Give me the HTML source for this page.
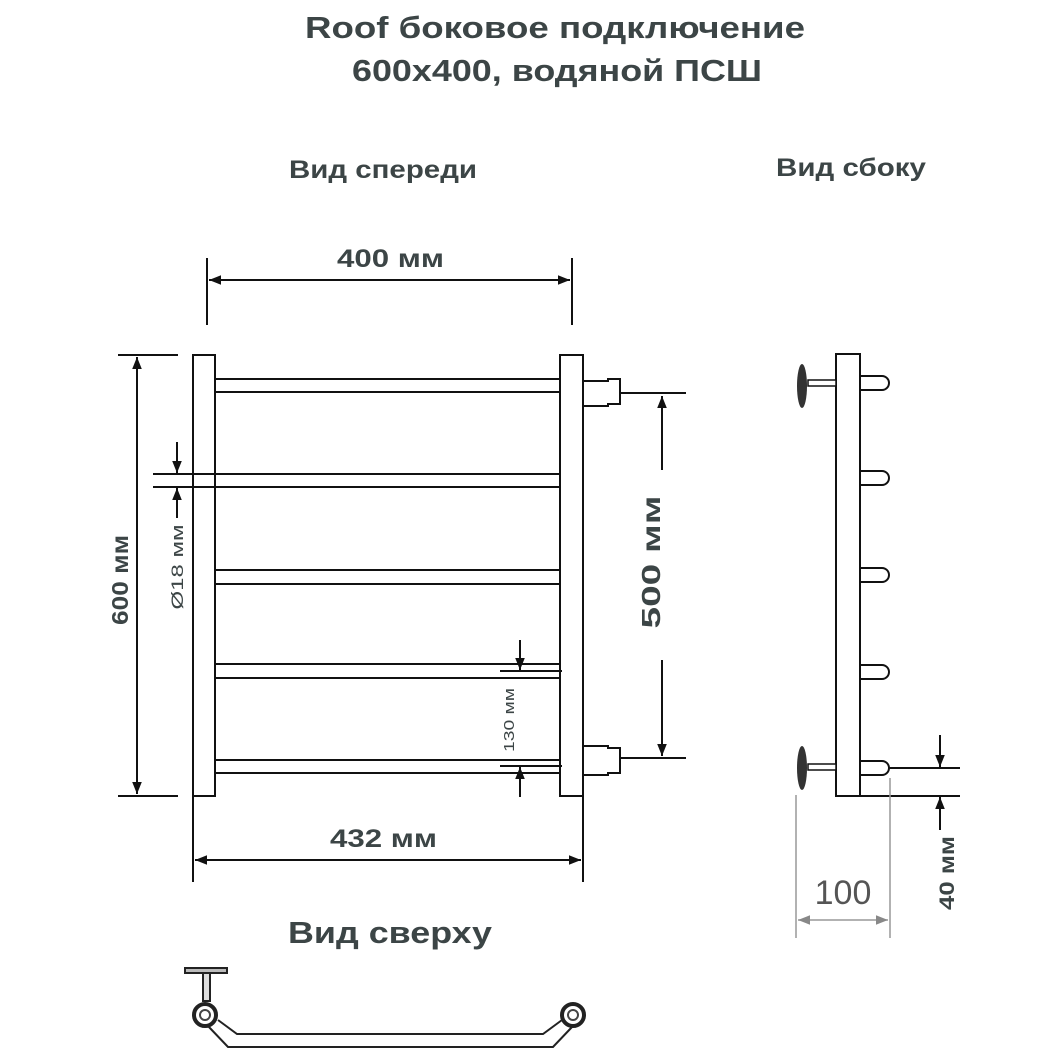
<!DOCTYPE html>
<html><head><meta charset="utf-8"><style>
html,body{margin:0;padding:0;background:#fff}
svg{display:block}
text{font-family:"Liberation Sans",sans-serif;fill:#3c4546;font-weight:bold}
</style></head><body>
<svg width="1057" height="1057" viewBox="0 0 1057 1057" xmlns="http://www.w3.org/2000/svg">
<defs>
<marker id="a" viewBox="0 0 10 10" refX="10" refY="5" markerWidth="14" markerHeight="12" orient="auto-start-reverse" markerUnits="userSpaceOnUse"><path d="M0,1 L10,5 L0,9z" fill="#111"/></marker>
<marker id="g" viewBox="0 0 10 10" refX="10" refY="5" markerWidth="14" markerHeight="12" orient="auto-start-reverse" markerUnits="userSpaceOnUse"><path d="M0,1 L10,5 L0,9z" fill="#888"/></marker>
</defs>
<text x="305" y="38" font-size="31" textLength="500" lengthAdjust="spacingAndGlyphs">Roof боковое подключение</text>
<text x="352" y="81" font-size="31" textLength="410" lengthAdjust="spacingAndGlyphs">600x400, водяной ПСШ</text>
<text x="289" y="178" font-size="25" textLength="188" lengthAdjust="spacingAndGlyphs">Вид спереди</text>
<text x="776" y="176" font-size="25" textLength="150" lengthAdjust="spacingAndGlyphs">Вид сбоку</text>
<text x="337" y="267" font-size="25" textLength="107" lengthAdjust="spacingAndGlyphs">400 мм</text>
<text x="330" y="847" font-size="25" textLength="107" lengthAdjust="spacingAndGlyphs">432 мм</text>
<text x="288" y="943" font-size="31" textLength="204" lengthAdjust="spacingAndGlyphs">Вид сверху</text>

<g stroke="#111" stroke-width="2" fill="none">
<line x1="207" y1="258" x2="207" y2="325"/><line x1="572" y1="258" x2="572" y2="325"/>
<line x1="209" y1="280" x2="570" y2="280" marker-start="url(#a)" marker-end="url(#a)"/>
<rect x="193" y="355" width="22" height="441" fill="#fff"/>
<rect x="560" y="355" width="23" height="441" fill="#fff"/>
<line x1="193" y1="796" x2="193" y2="882"/><line x1="583" y1="796" x2="583" y2="882"/>
<line x1="195" y1="860" x2="581" y2="860" marker-start="url(#a)" marker-end="url(#a)"/>
<line x1="215" y1="379" x2="560" y2="379"/><line x1="215" y1="392" x2="560" y2="392"/>
<line x1="215" y1="474" x2="560" y2="474"/><line x1="215" y1="487" x2="560" y2="487"/>
<line x1="215" y1="570" x2="560" y2="570"/><line x1="215" y1="584" x2="560" y2="584"/>
<line x1="215" y1="664" x2="560" y2="664"/><line x1="215" y1="678" x2="560" y2="678"/>
<line x1="215" y1="760" x2="560" y2="760"/><line x1="215" y1="773" x2="560" y2="773"/>
<line x1="118" y1="355" x2="178" y2="355"/><line x1="118" y1="796" x2="178" y2="796"/>
<line x1="137" y1="357" x2="137" y2="794" marker-start="url(#a)" marker-end="url(#a)"/>
<line x1="153" y1="474" x2="215" y2="474"/><line x1="153" y1="487" x2="215" y2="487"/>
<line x1="177" y1="442" x2="177" y2="473" marker-end="url(#a)"/>
<line x1="177" y1="518" x2="177" y2="488" marker-end="url(#a)"/>
<path d="M583,381 H608 V379 H620 V404 H608 V406 H583"/>
<path d="M583,746 H608 V748 H620 V773 H608 V775 H583"/>
<line x1="620" y1="393" x2="686" y2="393"/><line x1="620" y1="758" x2="686" y2="758"/>
<line x1="662" y1="470" x2="662" y2="396" marker-end="url(#a)"/>
<line x1="662" y1="660" x2="662" y2="756" marker-end="url(#a)"/>
<line x1="500" y1="671" x2="562" y2="671"/><line x1="500" y1="766" x2="562" y2="766"/>
<line x1="520" y1="640" x2="520" y2="670" marker-end="url(#a)"/>
<line x1="520" y1="797" x2="520" y2="767" marker-end="url(#a)"/>
<rect x="836" y="354" width="24" height="442" fill="#fff"/>
<path d="M860,376 H882 A7,7 0 0 1 882,390 H860"/>
<path d="M860,471 H882 A7,7 0 0 1 882,485 H860"/>
<path d="M860,568 H882 A7,7 0 0 1 882,582 H860"/>
<path d="M860,665 H882 A7,7 0 0 1 882,679 H860"/>
<path d="M860,761 H882 A7,7 0 0 1 882,775 H860"/>
<rect x="808" y="380" width="28" height="6" fill="#fff" stroke-width="1.5"/>
<rect x="808" y="764" width="28" height="6" fill="#fff" stroke-width="1.5"/>
<line x1="888" y1="768" x2="960" y2="768"/><line x1="860" y1="796" x2="960" y2="796"/>
<line x1="940" y1="735" x2="940" y2="767" marker-end="url(#a)"/>
<line x1="940" y1="830" x2="940" y2="797" marker-end="url(#a)"/>
</g>
<ellipse cx="802" cy="386" rx="5" ry="22" fill="#333"/>
<ellipse cx="802" cy="768" rx="5" ry="22" fill="#333"/>
<g stroke="#999" stroke-width="1.5" fill="none">
<line x1="796" y1="795" x2="796" y2="938"/><line x1="890" y1="778" x2="890" y2="938"/>
<line x1="798" y1="920" x2="888" y2="920" marker-start="url(#g)" marker-end="url(#g)"/>
</g>
<text x="843" y="904" font-size="34" text-anchor="middle" style="font-weight:normal;fill:#555">100</text>

<text transform="translate(128,580) rotate(-90)" font-size="23" text-anchor="middle" textLength="90" lengthAdjust="spacingAndGlyphs">600 мм</text>
<text transform="translate(183,567) rotate(-90)" font-size="17" text-anchor="middle" textLength="85" lengthAdjust="spacingAndGlyphs" style="font-weight:normal">Ø18 мм</text>
<text transform="translate(660,562) rotate(-90)" font-size="26" text-anchor="middle" textLength="133" lengthAdjust="spacingAndGlyphs">500 мм</text>
<text transform="translate(514,720) rotate(-90)" font-size="15" text-anchor="middle" textLength="64" lengthAdjust="spacingAndGlyphs" style="font-weight:normal">130 мм</text>
<text transform="translate(954,873) rotate(-90)" font-size="21" text-anchor="middle" textLength="74" lengthAdjust="spacingAndGlyphs">40 мм</text>

<g stroke="#222" stroke-width="2" fill="none">
<rect x="185" y="968" width="42" height="5" fill="#bbb"/>
<rect x="203" y="973" width="7" height="28" fill="#ddd"/>
<path d="M218,1020 L237,1034 H543 L562,1020"/>
<path d="M208,1026 L228,1047 H553 L572,1027"/>
</g>
<circle cx="205" cy="1015" r="11" fill="#fff" stroke="#222" stroke-width="4"/>
<circle cx="205" cy="1015" r="5" fill="none" stroke="#444" stroke-width="2"/>
<circle cx="573" cy="1015" r="11" fill="#fff" stroke="#222" stroke-width="4"/>
<circle cx="573" cy="1015" r="5" fill="none" stroke="#444" stroke-width="2"/>
</svg>
</body></html>
